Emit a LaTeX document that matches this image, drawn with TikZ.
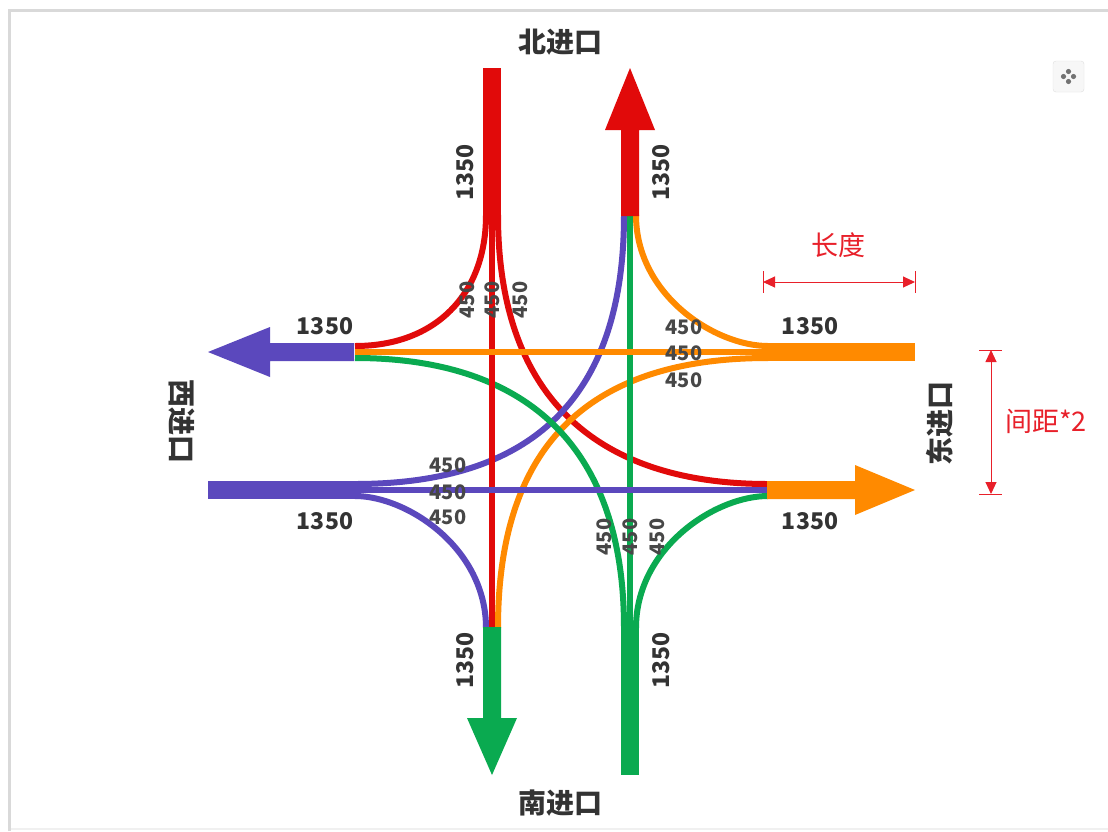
\documentclass[tikz,border=0pt]{standalone}
\usepackage{fontspec}
\setmainfont{Noto Sans CJK SC}
\usetikzlibrary{arrows.meta}
\definecolor{cRed}{HTML}{E10A0A}
\definecolor{cPur}{HTML}{5B48BD}
\definecolor{cOra}{HTML}{FF8A00}
\definecolor{cGrn}{HTML}{0AAA50}
\definecolor{cTxt}{HTML}{333333}
\definecolor{cAnn}{HTML}{E8202A}
\begin{document}
\begin{tikzpicture}[x=1pt,y=-1pt,
  lane/.style={line width=6pt},
  big/.style={font=\bfseries\fontsize{23}{23}\selectfont, text=cTxt, inner sep=0},
  small/.style={font=\bfseries\fontsize{20}{20}\selectfont, text=cTxt!90, inner sep=0},
  dir/.style={font=\bfseries\fontsize{28}{28}\selectfont, text=cTxt, inner sep=0},
  ann/.style={font=\fontsize{27}{27}\selectfont, text=cAnn, inner sep=0},
  dim/.style={draw=cAnn, line width=1pt},
  tick/.style={draw=cAnn, line width=1pt},
]
\useasboundingbox (0,0) rectangle (1108,831);
\fill[white] (0,0) rectangle (1108,831);
% frame
\draw[line width=3pt, color=black!15] (9.5,831) -- (9.5,10) -- (1108,10);
\draw[line width=1.5pt, color=black!6] (11,829) -- (1108,829);

% ports
\coordinate (NE) at (492,215);
\coordinate (NX) at (630,215);
\coordinate (WX) at (355,352);
\coordinate (WE) at (355,490);
\coordinate (EE) at (768,352);
\coordinate (EX) at (768,490);
\coordinate (SX) at (492,628);
\coordinate (SE) at (630,628);

% lanes
\draw[lane,cRed] (486,215) .. controls (486,295) and (435,346) .. (355,346);
\draw[lane,cRed] (498,215) .. controls (498,400) and (600,484) .. (768,484);
\draw[lane,cPur] (355,484) .. controls (530,484) and (624,400) .. (624,215);
\draw[lane,cPur] (355,496) .. controls (407,496) and (486,548) .. (486,628);
\draw[lane,cOra] (768,346) .. controls (715,346) and (636,295) .. (636,215);
\draw[lane,cOra] (768,358) .. controls (592,358) and (498,442) .. (498,628);
\draw[lane,cGrn] (624,628) .. controls (624,442) and (522,358) .. (355,358);
\draw[lane,cGrn] (636,628) .. controls (636,548) and (715,496) .. (768,496);
\draw[lane,cRed] (NE) -- (SX);
\draw[lane,cGrn] (SE) -- (NX);
\draw[lane,cOra] (EE) -- (WX);
\draw[lane,cPur] (WE) -- (EX);

% thick entries / exits
\fill[cRed] (483,68) rectangle (501,216);
\fill[cRed] (621,216) -- (621,130) -- (605,130) -- (630,68) -- (655,130) -- (639,130) -- (639,216) -- cycle;
\fill[cPur] (354,343) -- (270,343) -- (270,327) -- (208,352) -- (270,377) -- (270,361) -- (354,361) -- cycle;
\fill[cPur] (208,481) rectangle (356,499);
\fill[cOra] (767,343) rectangle (915,361);
\fill[cOra] (767,481) -- (855,481) -- (855,465) -- (915,490) -- (855,515) -- (855,499) -- (767,499) -- cycle;
\fill[cGrn] (483,627) -- (483,718) -- (467,718) -- (492,775) -- (517,718) -- (501,718) -- (501,627) -- cycle;
\fill[cGrn] (621,627) rectangle (639,775);

% 1350 labels
\node[big, rotate=90] (l1) at (465,172) {1350};
\node[big, rotate=90] (l2) at (661,172) {1350};
\node[big] (l3) at (325,326) {1350};
\node[big] (l4) at (325,521) {1350};
\node[big] (l5) at (810,326) {1350};
\node[big] (l6) at (810,521) {1350};
\node[big, rotate=90] (l7) at (465,660) {1350};
\node[big, rotate=90] (l8) at (661,660) {1350};

% 450 labels
\node[small, rotate=90] (n1) at (467,300) {450};
\node[small, rotate=90] (n2) at (492,300) {450};
\node[small, rotate=90] (n3) at (520,300) {450};
\node[small] (e1) at (684,327) {450};
\node[small] (e2) at (684,353) {450};
\node[small] (e3) at (684,380) {450};
\node[small] (w1) at (448,465) {450};
\node[small] (w2) at (448,492) {450};
\node[small] (w3) at (448,517) {450};
\node[small, rotate=90] (s1) at (604,537) {450};
\node[small, rotate=90] (s2) at (630,537) {450};
\node[small, rotate=90] (s3) at (657,537) {450};

% direction labels
\node[dir] (north) at (560,42) {北进口};
\node[dir] (south) at (560,803) {南进口};
\node[dir, rotate=-90] (west) at (182,421) {西进口};
\node[dir, rotate=90] (east) at (940,423) {东进口};

% annotations
\node[ann] (len) at (838,245) {长度};
\node[ann] (gap) at (1046,421) {间距*2};
\coordinate (LA) at (763,282);
\coordinate (LB) at (915,282);
\draw[tick] (763,271) -- (763,293);
\draw[tick] (915,271) -- (915,293);
\draw[dim, {Triangle[length=12pt,width=11pt]}-{Triangle[length=12pt,width=11pt]}] (LA) -- (LB);
\coordinate (GA) at (991,350);
\coordinate (GB) at (991,494);
\draw[tick] (979,350) -- (1002,350);
\draw[tick] (979,494) -- (1002,494);
\draw[dim, {Triangle[length=12pt,width=11pt]}-{Triangle[length=12pt,width=11pt]}] (GA) -- (GB);

% corner icon
\draw[fill=black!3, draw=black!12, rounded corners=3pt] (1053,61) rectangle (1084,92);
\foreach \dx/\dy in {0/-5,0/5,-5/0,5/0}
  \fill[black!55] (1068.5+\dx,76.5+\dy) circle (2.6);
\end{tikzpicture}
\end{document}
